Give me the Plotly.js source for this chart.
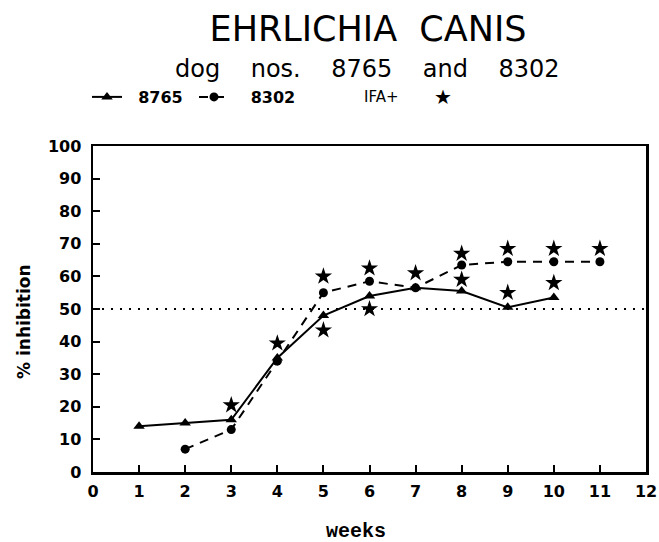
<!DOCTYPE html>
<html>
<head>
<meta charset="utf-8">
<script src="https://cdn.plot.ly/plotly-3.0.1.min.js"></script>
<style>html,body{margin:0;padding:0;background:#fff;}#chart{width:659px;height:542px;}</style>
</head>
<body>
<div id="chart"></div>
<script>
// ---- data ----
var weeks8765 = [1, 2, 3, 4, 5, 6, 7, 8, 9, 10];
var inhib8765 = [14, 15, 16, 35, 48, 54, 56.5, 55.5, 50.5, 53.5];

var weeks8302 = [2, 3, 4, 5, 6, 7, 8, 9, 10, 11];
var inhib8302 = [7, 13, 34, 55, 58.5, 56.5, 63.5, 64.5, 64.5, 64.5];

var weeksIFA = [3, 4, 5, 5, 6, 6, 7, 8, 8, 9, 9, 10, 10, 11];
var inhibIFA = [20.5, 39.5, 60, 43.5, 62.5, 50, 61, 67, 59, 68.5, 55, 68.5, 58, 68.5];

var thresholdValue = 50;
var xTicks = [0, 1, 2, 3, 4, 5, 6, 7, 8, 9, 10, 11, 12];
var yTicks = [0, 10, 20, 30, 40, 50, 60, 70, 80, 90, 100];

var titleText = 'EHRLICHIA&nbsp;&nbsp;CANIS';
var sp = '&nbsp;&nbsp;&nbsp;&nbsp;';
var subtitleText = 'dog' + sp + 'nos.' + sp + '8765' + sp + 'and' + sp + '8302';
var seriesNames = ['8765', '8302'];

// ---- chart ----
var tickFont = {family: 'DejaVu Sans', size: 16, color: '#000', weight: 'bold'};

var traces = [
  {
    x: weeks8765, y: inhib8765, name: '&nbsp;&nbsp;' + seriesNames[0], type: 'scatter', mode: 'lines+markers',
    line: {color: '#000', width: 2},
    marker: {symbol: 'triangle-up', size: 10, color: '#000'}
  },
  {
    x: weeks8302, y: inhib8302, name: '&nbsp;&nbsp;&nbsp;' + seriesNames[1], type: 'scatter', mode: 'lines+markers',
    line: {color: '#000', width: 2, dash: '9px,7px'},
    marker: {symbol: 'circle', size: 9, color: '#000'}
  },
  {
    x: weeksIFA, y: inhibIFA, name: 'IFA+', type: 'scatter', mode: 'markers', showlegend: false,
    marker: {symbol: 'star', size: 13, color: '#000'}
  }
];

var axisCommon = {
  showline: true, linecolor: '#000', linewidth: 2.5, mirror: true,
  showgrid: false, zeroline: false,
  ticks: 'inside', ticklen: 7, tickwidth: 2, tickcolor: '#000',
  tickfont: tickFont, fixedrange: true
};

var layout = {
  width: 659, height: 542,
  margin: {l: 93, r: 13, t: 146, b: 70},
  paper_bgcolor: '#fff', plot_bgcolor: '#fff',
  title: {
    text: titleText,
    font: {family: 'DejaVu Sans', size: 35, color: '#000'},
    x: 368 / 659, xanchor: 'center', y: 1 - 29 / 542, yanchor: 'middle'
  },
  xaxis: Object.assign({}, axisCommon, {range: [0, 12], tickvals: xTicks, ticklabelstandoff: 3}),
  yaxis: Object.assign({}, axisCommon, {range: [0, 100], tickvals: yTicks, ticklabelstandoff: 6}),
  showlegend: true,
  legend: {
    orientation: 'h', x: -6 / 553, xanchor: 'left', y: (472 - 97) / 326, yanchor: 'middle',
    entrywidth: 62, entrywidthmode: 'pixels',
    bgcolor: 'rgba(0,0,0,0)', font: {family: 'DejaVu Sans', size: 16, color: '#000', weight: 'bold'},
    itemclick: false, itemdoubleclick: false
  },
  shapes: [
    {type: 'line', xref: 'x', yref: 'y', x0: xTicks[0], x1: xTicks[xTicks.length - 1], y0: thresholdValue, y1: thresholdValue,
     line: {color: '#000', width: 2, dash: '2px,7px'}}
  ],
  annotations: [
    {text: subtitleText, xref: 'paper', yref: 'paper', x: (367 - 93) / 553, y: (472 - 69) / 326,
     xanchor: 'center', yanchor: 'middle', showarrow: false,
     font: {family: 'DejaVu Sans', size: 24, color: '#000'}},
    {text: 'IFA+', xref: 'paper', yref: 'paper', x: (362 - 93) / 553, y: (472 - 97) / 326,
     xanchor: 'left', yanchor: 'middle', showarrow: false,
     font: {family: 'DejaVu Sans', size: 15, color: '#000'}},
    {text: '★', xref: 'paper', yref: 'paper', x: (443 - 93) / 553, y: (472 - 97) / 326,
     xanchor: 'center', yanchor: 'middle', showarrow: false,
     font: {family: 'DejaVu Sans', size: 20, color: '#000'}},
    {text: '% inhibition', xref: 'paper', yref: 'paper', x: (24 - 93) / 553, y: (472 - 322) / 326,
     xanchor: 'center', yanchor: 'middle', textangle: -90, showarrow: false,
     font: {family: 'DejaVu Sans', size: 17, color: '#000', weight: 'bold'}},
    {text: 'weeks', xref: 'paper', yref: 'paper', x: (356 - 93) / 553, y: (472 - 531) / 326,
     xanchor: 'center', yanchor: 'middle', showarrow: false,
     font: {family: 'Liberation Mono', size: 20, color: '#000', weight: 'bold'}}
  ]
};

Plotly.newPlot('chart', traces, layout, {displayModeBar: false, staticPlot: true});
</script>
</body>
</html>
